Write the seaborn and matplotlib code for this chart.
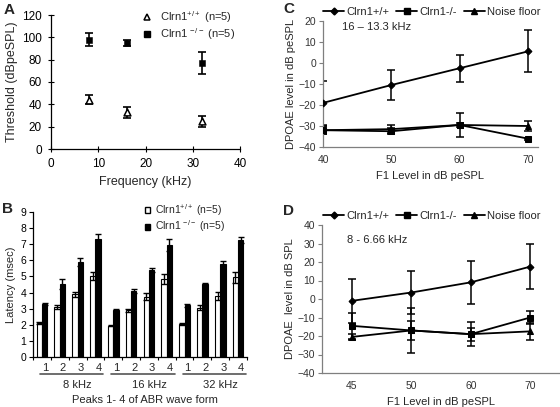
import matplotlib
matplotlib.use('Agg')
import matplotlib.pyplot as plt
from matplotlib.lines import Line2D
import seaborn as sns
import numpy as np
import pandas as pd

sns.set_theme(style='white')
plt.rcParams['font.family'] = ['Liberation Sans', 'DejaVu Sans']
plt.rcParams['mathtext.fontset'] = 'custom'
plt.rcParams['mathtext.rm'] = 'Liberation Sans'

# ---- data ----
# A: ABR thresholds
freq_a = [8, 16, 32]
thr_wt = [44, 33, 25]
thr_wt_err = [4, 5, 5]
thr_ko = [98, 95, 77]
thr_ko_err = [6, 3, 10]

# B: latency of peaks 1-4 at 8/16/32 kHz
peaks = ['1', '2', '3', '4']
groups = ['8 kHz', '16 kHz', '32 kHz']
lat_wt = [2.1, 3.1, 3.9, 5.0, 1.95, 2.9, 3.75, 4.85, 2.05, 3.05, 3.8, 4.95]
lat_wt_err = [0.05, 0.1, 0.15, 0.25, 0.03, 0.1, 0.2, 0.3, 0.08, 0.15, 0.25, 0.35]
lat_ko = [3.3, 4.55, 5.9, 7.3, 2.9, 4.1, 5.4, 6.95, 3.2, 4.55, 5.8, 7.25]
lat_ko_err = [0.07, 0.3, 0.25, 0.35, 0.1, 0.1, 0.12, 0.35, 0.1, 0.05, 0.15, 0.18]

# C: DPOAE 16 - 13.3 kHz
f1_c = [40, 50, 60, 70]
c_wt = [-19, -10.5, -2.5, 5.5]
c_wt_err = [10.5, 7, 6.5, 10]
c_ko = [-32, -32.5, -29.5, -36]
c_ko_err = [2, 1.5, 5.5, 0.5]
c_nf = [-32, -31.5, -29.5, -30]
c_nf_err = [2, 2, 1, 2.5]

# D: DPOAE 8 - 6.66 kHz
f1_d = ['45', '50', '60', '70']
d_wt = [-1, 3.5, 9, 17.5]
d_wt_err = [12, 11.5, 11.5, 12]
d_ko = [-14.5, -17, -19, -10]
d_ko_err = [7, 12, 6.5, 3.5]
d_nf = [-20.5, -17, -19, -17.5]
d_nf_err = [1.5, 5, 3.5, 4.5]

W, H = 560, 407
fig = plt.figure(figsize=(W / 100, H / 100), dpi=100)


def px_axes(l, t, r, b):
    return fig.add_axes([l / W, 1 - b / H, (r - l) / W, (b - t) / H])


def ptext(x, y, s, **kw):
    # text placed in pixel coords measured from the top-left corner
    return fig.text(x / W, 1 - y / H, s, **kw)


FS = 8
TFS = 7.5

# ---------------- A ----------------
axA = px_axes(51, 15, 240, 149)
dfA = pd.DataFrame({'f': freq_a * 2, 'thr': thr_wt + thr_ko,
                    'g': ['wt'] * 3 + ['ko'] * 3})
axA.errorbar(freq_a, thr_wt, yerr=thr_wt_err, fmt='none', ecolor='black',
             elinewidth=1.2, capsize=3, capthick=1.2, zorder=2)
axA.errorbar(freq_a, thr_ko, yerr=thr_ko_err, fmt='none', ecolor='black',
             elinewidth=1.2, capsize=3, capthick=1.2, zorder=2)
sns.scatterplot(data=dfA[dfA.g == 'wt'], x='f', y='thr', marker='^', s=24,
                facecolor='white', edgecolor='black', linewidth=1.1, ax=axA, zorder=3)
sns.scatterplot(data=dfA[dfA.g == 'ko'], x='f', y='thr', marker='s', s=24,
                color='black', edgecolor='black', ax=axA, zorder=3)
axA.set_xlim(0, 40)
axA.set_ylim(0, 120)
axA.set_xticks([0, 10, 20, 30, 40])
axA.set_yticks(range(0, 121, 20))
axA.set_xlabel('Frequency (kHz)', fontsize=9, labelpad=4)
axA.set_ylabel('Threshold (dBpeSPL)', fontsize=9, labelpad=3)
hA = [Line2D([], [], marker='^', ls='none', mfc='white', mec='black', ms=5, mew=1.1),
      Line2D([], [], marker='s', ls='none', mfc='black', mec='black', ms=4.5)]
axA.legend(hA, [r'Clrn1$^{+/+}$ (n=5)', r'Clrn1 $^{-/-}$ (n=5)'], loc='upper right',
           bbox_to_anchor=(1.0, 1.08), frameon=False, fontsize=FS, handletextpad=0.2,
           labelspacing=0.15, borderaxespad=0)

# ---------------- B ----------------
BL, BT, BR, BB = 33, 212, 247, 357
axB = px_axes(BL, BT, BR, BB)
cats = [f'{g}-{p}' for g in groups for p in peaks]
dfB = pd.DataFrame({'cat': cats * 2, 'lat': lat_wt + lat_ko,
                    'geno': ['wt'] * 12 + ['ko'] * 12})
sns.barplot(data=dfB, x='cat', y='lat', hue='geno', palette=['white', 'black'],
            edgecolor='black', linewidth=0.8, width=0.6, errorbar=None,
            legend=False, ax=axB)
xpos = np.arange(12)
axB.errorbar(xpos - 0.15, lat_wt, yerr=lat_wt_err, fmt='none', ecolor='black',
             elinewidth=1, capsize=2.2, capthick=1)
axB.errorbar(xpos + 0.15, lat_ko, yerr=lat_ko_err, fmt='none', ecolor='black',
             elinewidth=1, capsize=2.2, capthick=1)
axB.set_xlim(-0.5, 11.5)
axB.set_ylim(0, 9)
axB.set_yticks(range(0, 10))
axB.set_xticks(np.arange(-0.5, 12, 1))
axB.set_xticklabels([])
axB.set_xlabel('')
axB.set_ylabel('Latency (msec)', fontsize=FS, labelpad=3)

cw = (BR - BL) / 12.0


def cat_px(i):
    return BL + (i + 0.5) * cw


for i, p in enumerate(peaks * 3):
    ptext(cat_px(i) + 3, 368, p, ha='center', va='center', fontsize=FS)
for gi, g in enumerate(groups):
    x0, x1 = cat_px(gi * 4) - 2, cat_px(gi * 4 + 3) + 8
    fig.add_artist(Line2D([x0 / W, x1 / W], [1 - 374 / H] * 2, color='#555555', lw=1.2))
    ptext((x0 + x1) / 2 + 6, 385, g, ha='center', va='center', fontsize=FS)
ptext((BL + BR) / 2 + 5, 400, 'Peaks 1- 4 of ABR wave form', ha='center',
      va='center', fontsize=FS)
hB = [plt.Rectangle((0, 0), 1, 1, fc='white', ec='black', lw=1),
      plt.Rectangle((0, 0), 1, 1, fc='black', ec='black')]
axB.legend(hB, [r'Clrn1$^{+/+}$ (n=5)', r'Clrn1 $^{-/-}$ (n=5)'], loc='upper left',
           bbox_to_anchor=((145 - BL) / (BR - BL), 1.07), frameon=False, fontsize=7.5,
           handlelength=0.5, handleheight=0.5, handletextpad=0.5, labelspacing=0.1,
           borderaxespad=0, borderpad=0)

# ---------------- C ----------------
GRAY = '#7f7f7f'
axC = px_axes(323, 21, 538, 147)


def dp_series(ax, x, y, err, marker, ms):
    d = pd.DataFrame({'x': x, 'y': y})
    ax.errorbar(x, y, yerr=err, fmt='none', ecolor='black', elinewidth=1.1,
                capsize=2.8, capthick=1.1, zorder=2)
    sns.lineplot(data=d, x='x', y='y', marker=marker, markersize=ms, color='black',
                 markeredgecolor='black', lw=1.3, ax=ax, zorder=3)


dp_series(axC, f1_c, c_wt, c_wt_err, 'D', 3.5)
dp_series(axC, f1_c, c_ko, c_ko_err, 's', 5)
dp_series(axC, f1_c, c_nf, c_nf_err, '^', 5)
axC.set_xlim(40, 71.5)
axC.set_ylim(-40, 20)
axC.set_xticks(f1_c)
axC.set_yticks(range(-40, 21, 10))
axC.set_xlabel('F1 Level in dB peSPL', fontsize=FS, labelpad=4)
axC.set_ylabel('DPOAE level in dB peSPL', fontsize=FS, labelpad=2)
ptext(342, 27, '16 – 13.3 kHz', fontsize=FS, va='center')

hCD = [Line2D([], [], color='black', marker='D', ms=3.5, lw=1.3),
       Line2D([], [], color='black', marker='s', ms=5, lw=1.3),
       Line2D([], [], color='black', marker='^', ms=5, lw=1.3)]
legkw = dict(ncol=3, loc='lower left', frameon=False, fontsize=FS, handlelength=1.9,
             handletextpad=0.2, columnspacing=0.6, borderaxespad=0.1, borderpad=0)
axC.legend(hCD, ['Clrn1+/+', 'Clrn1-/-', 'Noise floor'],
           bbox_to_anchor=(-0.005, 1.02), **legkw)

# ---------------- D ----------------
axD = px_axes(322, 225, 560, 373)
xd = np.arange(len(f1_d))
dp_series(axD, xd, d_wt, d_wt_err, 'D', 3.5)
dp_series(axD, xd, d_ko, d_ko_err, 's', 5)
dp_series(axD, xd, d_nf, d_nf_err, '^', 5)
axD.set_xlim(-0.5, 3.5)
axD.set_ylim(-40, 40)
axD.set_xticks(xd)
axD.set_xticklabels(f1_d)
axD.set_yticks(range(-40, 41, 10))
axD.set_xlabel('F1 Level in dB peSPL', fontsize=FS, labelpad=4)
axD.set_ylabel('DPOAE  level in dB SPL', fontsize=FS, labelpad=2)
ptext(347, 240, '8 - 6.66 kHz', fontsize=FS, va='center')
axD.legend(hCD, ['Clrn1+/+', 'Clrn1-/-', 'Noise floor'],
           bbox_to_anchor=(0.0, 1.02), **legkw)

# shared styling
for ax in (axA, axB, axC, axD):
    sns.despine(ax=ax)
    ax.tick_params(labelsize=TFS, length=3, width=0.8, direction='out', pad=2,
                   left=True, bottom=True)
for ax in (axA, axB):
    for s in ('left', 'bottom'):
        ax.spines[s].set_color('black')
        ax.spines[s].set_linewidth(0.9)
    ax.tick_params(colors='black')
axA.tick_params(labelsize=8.5, direction='inout', length=5, pad=4)
for ax in (axC, axD):
    for s in ('left', 'bottom'):
        ax.spines[s].set_color(GRAY)
        ax.spines[s].set_linewidth(0.9)
    ax.tick_params(colors=GRAY, labelcolor='#333333')
    ax.tick_params(axis='x', length=0, pad=6)
axB.tick_params(axis='x', length=2)

# panel letters
for lbl, x, y in [('A', 4, 10), ('B', 2, 209), ('C', 283, 9), ('D', 283, 211)]:
    ptext(x, y, lbl, fontsize=11, fontweight='bold', va='center', ha='left')

fig.savefig('out.png', dpi=100)
